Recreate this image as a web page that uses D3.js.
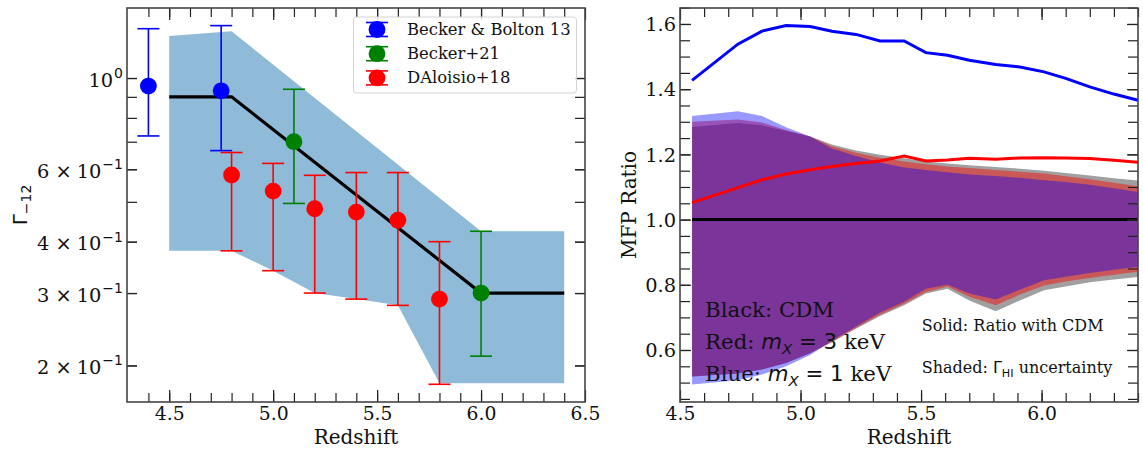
<!DOCTYPE html>
<html><head><meta charset="utf-8">
<script src="https://cdn.jsdelivr.net/npm/d3@7"></script>
<style>body{margin:0;background:#fff} svg{display:block} text{font-family:"DejaVu Serif",serif;fill:#111}</style>
</head><body><svg id="c" width="1143" height="449"></svg>
<script>
// ---------- Left panel data ----------
const bbZ=[4.4,4.75], bbG=[0.956,0.931], bbLo=[0.723,0.666], bbHi=[1.318,1.341];
const b21Z=[5.1,6.0], b21G=[0.70,0.30], b21Lo=[0.4955,0.2107], b21Hi=[0.939,0.424];
const daZ=[4.8,5.0,5.2,5.4,5.6,5.8], daG=[0.581,0.531,0.481,0.472,0.451,0.290];
const daLo=[0.380,0.340,0.300,0.290,0.280,0.180], daHi=[0.659,0.620,0.580,0.589,0.589,0.400];
const modelZ=[4.5,4.8,6.0,6.4], modelG=[0.9,0.9,0.3,0.3];
const bandHiZ=[4.5,4.8,6.0,6.4], bandHi=[1.265,1.30,0.424,0.424];
const bandLoZ=[4.5,4.8,5.0,5.2,5.4,5.6,5.8,6.4], bandLo=[0.380,0.380,0.340,0.300,0.290,0.280,0.181,0.181];
const legendNames=["Becker & Bolton 13","Becker+21","DAloisio+18"];
const leftXTicks=[4.5,5.0,5.5,6.0,6.5], leftXLabels=["4.5","5.0","5.5","6.0","6.5"];
const leftYTicks=[0.2,0.3,0.4,0.6,1.0], leftYLabels=["2 × 10^−1","3 × 10^−1","4 × 10^−1","6 × 10^−1","10^0"];
const leftYMinor=[0.2,0.3,0.4,0.5,0.6,0.7,0.8,0.9,1.0];

// ---------- Right panel data ----------
const mfpZ=[4.55,4.74,4.84,4.94,5.04,5.13,5.23,5.33,5.43,5.52,5.61,5.70,5.81,5.91,6.01,6.10,6.20,6.30,6.40];
const ratio1keV=[1.427,1.538,1.578,1.595,1.592,1.578,1.568,1.548,1.548,1.512,1.504,1.489,1.476,1.468,1.453,1.433,1.407,1.385,1.366];
const ratio3keV=[1.052,1.098,1.122,1.140,1.153,1.163,1.172,1.180,1.195,1.180,1.183,1.188,1.185,1.189,1.190,1.189,1.187,1.182,1.176];
const ratioCDM=[1,1,1,1,1,1,1,1,1,1,1,1,1,1,1,1,1,1,1];
const cdmHi=[1.284,1.296,1.289,1.272,1.255,1.230,1.212,1.199,1.188,1.178,1.172,1.167,1.161,1.156,1.150,1.143,1.135,1.127,1.120];
const cdmLo=[0.519,0.528,0.540,0.560,0.590,0.624,0.665,0.704,0.737,0.773,0.788,0.752,0.719,0.752,0.783,0.795,0.808,0.816,0.824];
const k3Hi=[1.300,1.307,1.298,1.275,1.255,1.225,1.205,1.190,1.178,1.170,1.163,1.158,1.152,1.147,1.141,1.133,1.124,1.113,1.102];
const k3Lo=[0.519,0.528,0.540,0.560,0.590,0.625,0.668,0.708,0.742,0.778,0.795,0.763,0.737,0.770,0.798,0.810,0.821,0.831,0.840];
const k1Hi=[1.318,1.332,1.318,1.283,1.255,1.218,1.195,1.175,1.160,1.152,1.145,1.138,1.134,1.128,1.121,1.115,1.107,1.096,1.085];
const k1Lo=[0.494,0.507,0.525,0.550,0.585,0.628,0.672,0.715,0.748,0.788,0.800,0.773,0.755,0.785,0.814,0.825,0.836,0.846,0.855];
const rightXTicks=[4.5,5.0,5.5,6.0], rightXLabels=["4.5","5.0","5.5","6.0"];
const rightYTicks=[0.6,0.8,1.0,1.2,1.4,1.6], rightYLabels=["0.6","0.8","1.0","1.2","1.4","1.6"];

const svg=d3.select("#c");
const SP="#444";

// ---------- helpers ----------
function addText(g,x,y,segs,size,anchor){
  const t=g.append("text").attr("x",x).attr("y",y).attr("font-size",size).attr("text-anchor",anchor||"start");
  let shift=0;
  segs.forEach(s=>{
    const sp=t.append("tspan").text(s.t);
    let target=0, fs=size;
    if(s.sup){target=-0.42*size; fs=0.7*size;}
    if(s.sub){target=0.22*size; fs=0.7*size;}
    sp.attr("dy",target-shift); shift=target;
    sp.attr("font-size",fs);
    if(s.sans) sp.style("font-family","'DejaVu Sans',sans-serif");
    if(s.it) sp.style("font-style","italic");
  });
  return t;
}
function ticks(g,x,y,xMaj,xMin,yMaj,yMin,xL,yLbl,ySizeMaj,ySizeMin){
  const [x0,x1]=x.range(), [y0,y1]=[y.range()[0],y.range()[1]];
  g.append("g").attr("transform",`translate(0,${y0})`).call(d3.axisBottom(x).tickValues(xMin).tickSize(-9).tickSizeOuter(0).tickFormat(""));
  g.append("g").attr("transform",`translate(0,${y1})`).call(d3.axisTop(x).tickValues(xMin).tickSize(-9).tickSizeOuter(0).tickFormat(""));
  g.append("g").attr("transform",`translate(0,${y1})`).call(d3.axisTop(x).tickValues(xMaj).tickSize(-12).tickSizeOuter(0).tickFormat(""));
  const bx=g.append("g").attr("transform",`translate(0,${y0})`).call(d3.axisBottom(x).tickValues(xMaj).tickSize(-12).tickSizeOuter(0).tickPadding(5).tickFormat((d,i)=>xL[i]));
  bx.selectAll("text").attr("font-size",18.8).attr("fill","#111").style("font-family","'DejaVu Serif',serif");
  g.append("g").attr("transform",`translate(${x0},0)`).call(d3.axisLeft(y).tickValues(yMin).tickSize(-ySizeMin).tickSizeOuter(0).tickFormat(""));
  g.append("g").attr("transform",`translate(${x1},0)`).call(d3.axisRight(y).tickValues(yMin).tickSize(-ySizeMin).tickSizeOuter(0).tickFormat(""));
  g.append("g").attr("transform",`translate(${x1},0)`).call(d3.axisRight(y).tickValues(yMaj).tickSize(-ySizeMaj).tickSizeOuter(0).tickFormat(""));
  const ly=g.append("g").attr("transform",`translate(${x0},0)`).call(d3.axisLeft(y).tickValues(yMaj).tickSize(-ySizeMaj).tickSizeOuter(0).tickPadding(4).tickFormat((d,i)=>yLbl[i]));
  ly.selectAll("text").each(function(){
    const s=d3.select(this), lab=s.text(); s.text("");
    s.attr("font-size",19.4).attr("fill","#111").style("font-family","'DejaVu Serif',serif").attr("dy",null);
    const parts=lab.split("^");
    if(parts.length===1){ s.attr("dy","0.35em").text(lab); return; }
    s.attr("dy",8);
    const base=parts[0].split(" × ");
    if(base.length===2){
      s.append("tspan").text(base[0]);
      s.append("tspan").attr("dx",6).style("font-family","'DejaVu Sans',sans-serif").text("×");
      s.append("tspan").attr("dx",5).text(base[1]);
    } else s.append("tspan").text(base[0]);
    s.append("tspan").attr("dy",-8.5).attr("dx",1).attr("font-size",14).style("font-family","'DejaVu Sans',sans-serif").text(parts[1]);
  });
  g.selectAll(".domain").remove();
  g.selectAll(".tick line").attr("stroke","#222").attr("stroke-width",1.2);
  g.append("rect").attr("x",x0).attr("y",y1).attr("width",x1-x0).attr("height",y0-y1).attr("fill","none").attr("stroke",SP).attr("stroke-width",1.6);
}

// ---------- Left panel ----------
const xL=d3.scaleLinear().domain([4.297,6.5]).range([127,585]);
const yL=d3.scaleLog().domain([0.163,1.48]).range([402,8]);
const gL=svg.append("g");
const lineL=d3.line().x(d=>xL(d[0])).y(d=>yL(d[1]));
const bandPts=bandHiZ.map((z,i)=>[z,bandHi[i]]).concat(bandLoZ.map((z,i)=>[z,bandLo[i]]).reverse());
gL.append("path").attr("d",lineL(bandPts)+"Z").attr("fill","#8fbbd9");
gL.append("path").attr("d",lineL(modelZ.map((z,i)=>[z,modelG[i]]))).attr("fill","none").attr("stroke","#000").attr("stroke-width",3.2);
function errorbars(zs,vs,lo,hi,color){
  const g=gL.append("g");
  zs.forEach((z,i)=>{
    const cx=xL(z);
    g.append("line").attr("x1",cx).attr("x2",cx).attr("y1",yL(lo[i])).attr("y2",yL(hi[i])).attr("stroke",color).attr("stroke-width",1.6);
    [lo[i],hi[i]].forEach(v=>g.append("line").attr("x1",cx-11).attr("x2",cx+11).attr("y1",yL(v)).attr("y2",yL(v)).attr("stroke",color).attr("stroke-width",1.6));
    g.append("circle").attr("cx",cx).attr("cy",yL(vs[i])).attr("r",8.4).attr("fill",color);
  });
}
errorbars(bbZ,bbG,bbLo,bbHi,"#0000ff");
errorbars(b21Z,b21G,b21Lo,b21Hi,"#008000");
errorbars(daZ,daG,daLo,daHi,"#ff0000");
ticks(gL,xL,yL,leftXTicks,d3.range(4.4,6.45,0.1).map(v=>+v.toFixed(1)),leftYTicks,leftYMinor,leftXLabels,leftYLabels,10,10);
// legend
const lg=gL.append("g");
lg.append("rect").attr("x",353.5).attr("y",17).attr("width",223).attr("height",76).attr("rx",3).attr("fill","#fff").attr("fill-opacity",0.8).attr("stroke","#d4d4d4");
const legCols=["#0000ff","#008000","#ff0000"];
legendNames.forEach((n,i)=>{
  const cy=29.5+i*24.2;
  lg.append("line").attr("x1",366).attr("x2",388).attr("y1",cy-7).attr("y2",cy-7).attr("stroke",legCols[i]).attr("stroke-width",1.6);
  lg.append("line").attr("x1",366).attr("x2",388).attr("y1",cy+7).attr("y2",cy+7).attr("stroke",legCols[i]).attr("stroke-width",1.6);
  lg.append("circle").attr("cx",377).attr("cy",cy).attr("r",8.4).attr("fill",legCols[i]);
  addText(lg,407,cy+5.5,[{t:n}],16.4);
});
addText(gL,356,444,[{t:"Redshift"}],20,"middle");
addText(gL,0,0,[{t:"Γ",sans:1},{t:"−12",sans:1,sub:1}],20,"middle").attr("transform","translate(27,205) rotate(-90)");

// ---------- Right panel ----------
const xR=d3.scaleLinear().domain([4.5,6.4]).range([680,1138]);
const yR=d3.scaleLinear().domain([0.4405,1.649]).range([402,8]);
const gR=svg.append("g");
const area=d3.area().x(d=>xR(d.z)).y0(d=>yR(d.lo)).y1(d=>yR(d.hi));
const mk=(lo,hi)=>mfpZ.map((z,i)=>({z,lo:lo[i],hi:hi[i]}));
gR.append("path").attr("d",area(mk(cdmLo,cdmHi))).attr("fill","#808080").attr("fill-opacity",0.75);
gR.append("path").attr("d",area(mk(k3Lo,k3Hi))).attr("fill","#ff0000").attr("fill-opacity",0.45);
gR.append("path").attr("d",area(mk(k1Lo,k1Hi))).attr("fill","#0000ff").attr("fill-opacity",0.4);
const lineR=d3.line().x((d,i)=>xR(mfpZ[i])).y(d=>yR(d));
gR.append("path").attr("d",lineR(ratioCDM)).attr("fill","none").attr("stroke","#000").attr("stroke-width",3);
gR.append("path").attr("d",lineR(ratio3keV)).attr("fill","none").attr("stroke","#ff0000").attr("stroke-width",3);
gR.append("path").attr("d",lineR(ratio1keV)).attr("fill","none").attr("stroke","#0000ff").attr("stroke-width",3);
ticks(gR,xR,yR,rightXTicks,d3.range(4.6,6.45,0.1).map(v=>+v.toFixed(1)),rightYTicks,d3.range(0.45,1.66,0.05).map(v=>+v.toFixed(2)),rightXLabels,rightYLabels,11,10);
addText(gR,909,444,[{t:"Redshift"}],20,"middle");
addText(gR,0,0,[{t:"MFP Ratio"}],20,"middle").attr("transform","translate(636,205) rotate(-90)");
addText(gR,705,317,[{t:"Black: CDM"}],21.3);
addText(gR,705,349,[{t:"Red: "},{t:"m",sans:1,it:1},{t:"X",sans:1,it:1,sub:1},{t:" = 3",sans:1},{t:" keV"}],21.3);
addText(gR,705,381,[{t:"Blue: "},{t:"m",sans:1,it:1},{t:"X",sans:1,it:1,sub:1},{t:" = 1",sans:1},{t:" keV"}],21.3);
addText(gR,921.7,331,[{t:"Solid: Ratio with CDM"}],16);
addText(gR,921.7,373,[{t:"Shaded: "},{t:"Γ",sans:1},{t:"HI",sans:1,sub:1},{t:" uncertainty"}],16);
</script></body></html>
